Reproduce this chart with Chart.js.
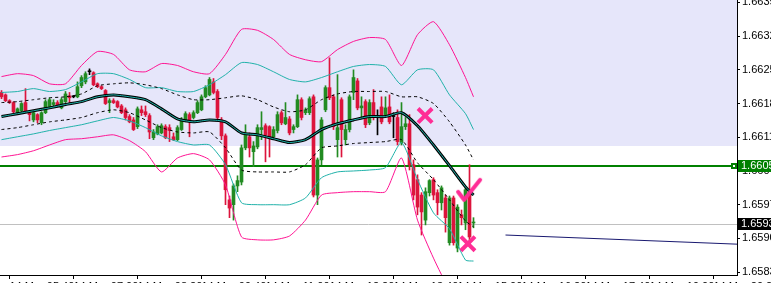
<!DOCTYPE html>
<html>
<head>
<meta charset="utf-8">
<script src="https://cdn.jsdelivr.net/npm/chart.js@4.4.0/dist/chart.umd.min.js"></script>
<style>
  html, body { margin: 0; padding: 0; background: #fff; }
  #wrap { width: 771px; height: 283px; }
</style>
</head>
<body>
<div id="wrap"><canvas id="priceChart" width="771" height="283"></canvas></div>
<script>
// M5 candles, 14 Mar, 05:30 .. 15:20
const openP = [1.66203,1.66198,1.66186,1.66182,1.66161,1.66165,1.66182,1.66161,1.66146,1.66157,1.66140,1.66161,1.66173,1.66178,1.66182,1.66171,1.66184,1.66196,1.66194,1.66194,
  1.66217,1.66225,1.66246,1.66244,1.66221,1.66215,1.66207,1.66182,1.66186,1.66184,1.66175,1.66167,1.66153,1.66146,1.66132,1.66167,1.66163,1.66155,1.66109,1.66117,
  1.66119,1.66132,1.66130,1.66111,1.66105,1.66126,1.66146,1.66157,1.66151,1.66161,1.66167,1.66194,1.66198,1.66225,1.66205,1.66146,1.66113,1.65980,1.65970,1.66009,
  1.66017,1.66088,1.66111,1.66080,1.66090,1.66126,1.66134,1.66132,1.66111,1.66124,1.66161,1.66138,1.66148,1.66126,1.66132,1.66188,1.66161,1.66161,1.66194,1.65990,
  1.66063,1.66167,1.66213,1.66194,1.66105,1.66188,1.66105,1.66126,1.66203,1.66227,1.66171,1.66184,1.66140,1.66182,1.66153,1.66173,1.66157,1.66173,1.66153,1.66151,
  1.66099,1.66132,1.66138,1.66053,1.66022,1.65990,1.65938,1.65995,1.66022,1.65995,1.65974,1.65984,1.65891,1.65984,1.65880,1.65949,1.65932,1.66001,1.65932];
const highP = [1.66207,1.66200,1.66188,1.66184,1.66171,1.66182,1.66211,1.66163,1.66163,1.66159,1.66163,1.66188,1.66192,1.66188,1.66186,1.66192,1.66205,1.66203,1.66196,1.66225,
  1.66238,1.66246,1.66252,1.66246,1.66223,1.66217,1.66209,1.66190,1.66190,1.66186,1.66178,1.66171,1.66157,1.66151,1.66173,1.66175,1.66175,1.66159,1.66126,1.66136,
  1.66138,1.66136,1.66136,1.66119,1.66134,1.66151,1.66163,1.66161,1.66165,1.66186,1.66198,1.66217,1.66234,1.66232,1.66209,1.66151,1.66117,1.65988,1.66013,1.66030,
  1.66094,1.66136,1.66119,1.66101,1.66136,1.66163,1.66138,1.66134,1.66132,1.66163,1.66165,1.66182,1.66153,1.66136,1.66198,1.66192,1.66171,1.66194,1.66198,1.66067,
  1.66151,1.66217,1.66275,1.66198,1.66240,1.66192,1.66136,1.66198,1.66250,1.66232,1.66194,1.66188,1.66188,1.66209,1.66167,1.66194,1.66194,1.66198,1.66161,1.66167,
  1.66182,1.66151,1.66157,1.66063,1.66032,1.65995,1.66005,1.66022,1.66026,1.66001,1.66009,1.65990,1.65988,1.65988,1.65970,1.65959,1.66005,1.66053,1.65943];
const lowP = [1.66190,1.66184,1.66180,1.66161,1.66159,1.66163,1.66161,1.66144,1.66142,1.66140,1.66136,1.66159,1.66171,1.66173,1.66173,1.66169,1.66182,1.66182,1.66192,1.66192,
  1.66213,1.66221,1.66240,1.66217,1.66213,1.66209,1.66178,1.66161,1.66180,1.66171,1.66159,1.66146,1.66140,1.66124,1.66128,1.66155,1.66153,1.66107,1.66105,1.66115,
  1.66117,1.66107,1.66101,1.66103,1.66103,1.66124,1.66142,1.66111,1.66148,1.66159,1.66165,1.66192,1.66196,1.66200,1.66146,1.66105,1.65970,1.65943,1.65938,1.65997,
  1.66011,1.66084,1.66069,1.66049,1.66086,1.66105,1.66059,1.66069,1.66107,1.66119,1.66136,1.66136,1.66115,1.66119,1.66130,1.66146,1.66157,1.66157,1.65986,1.65970,
  1.66053,1.66163,1.66188,1.66126,1.66069,1.66069,1.66094,1.66121,1.66188,1.66167,1.66151,1.66130,1.66136,1.66146,1.66115,1.66138,1.66153,1.66138,1.66109,1.66094,
  1.66094,1.66126,1.66042,1.65980,1.65949,1.65907,1.65928,1.65988,1.65980,1.65949,1.65959,1.65913,1.65886,1.65886,1.65872,1.65928,1.65918,1.65886,1.65922];
const closeP = [1.66194,1.66186,1.66182,1.66163,1.66169,1.66180,1.66163,1.66157,1.66161,1.66146,1.66161,1.66184,1.66188,1.66182,1.66175,1.66188,1.66200,1.66192,1.66194,1.66215,
  1.66234,1.66242,1.66246,1.66219,1.66215,1.66211,1.66180,1.66186,1.66182,1.66173,1.66161,1.66151,1.66142,1.66126,1.66169,1.66161,1.66157,1.66121,1.66121,1.66132,
  1.66134,1.66109,1.66124,1.66105,1.66130,1.66146,1.66159,1.66146,1.66161,1.66182,1.66194,1.66213,1.66230,1.66203,1.66151,1.66113,1.66001,1.65963,1.66009,1.66020,
  1.66088,1.66117,1.66088,1.66092,1.66130,1.66130,1.66115,1.66111,1.66126,1.66157,1.66140,1.66151,1.66119,1.66132,1.66188,1.66151,1.66167,1.66190,1.65990,1.66063,
  1.66146,1.66213,1.66192,1.66132,1.66130,1.66126,1.66126,1.66194,1.66234,1.66171,1.66175,1.66136,1.66182,1.66151,1.66153,1.66142,1.66171,1.66142,1.66153,1.66101,
  1.66132,1.66138,1.66053,1.65990,1.65965,1.65955,1.65997,1.66020,1.65990,1.65974,1.66005,1.65943,1.65984,1.65891,1.65965,1.65943,1.66001,1.65903,1.65934];

// Bollinger bands, every 4th bar
const bandAt = [0,4,8,12,16,20,24,28,32,36,40,44,48,52,56,60,64,68,72,76,80,84,88,92,96,100,104,108,112,116,118];
const bandMid = [1.66153,1.66159,1.66165,1.66171,1.66178,1.66184,1.66194,1.66198,1.66194,1.66188,1.66169,1.66148,1.66142,1.66146,1.66142,1.66119,1.66115,1.66107,1.66099,1.66105,1.66126,1.66138,1.66146,1.66153,1.66153,1.66161,1.66134,1.66094,1.66051,1.66007,1.65990];
const bandUp1 = [1.66182,1.66184,1.66188,1.66192,1.66194,1.66200,1.66217,1.66221,1.66223,1.66219,1.66211,1.66198,1.66188,1.66188,1.66192,1.66196,1.66188,1.66173,1.66163,1.66167,1.66188,1.66200,1.66205,1.66205,1.66205,1.66194,1.66194,1.66180,1.66142,1.66094,1.66063];
const bandLo1 = [1.66126,1.66130,1.66136,1.66142,1.66146,1.66151,1.66161,1.66167,1.66161,1.66146,1.66130,1.66121,1.66119,1.66121,1.66088,1.66042,1.66038,1.66038,1.66038,1.66053,1.66088,1.66092,1.66097,1.66099,1.66101,1.66105,1.66057,1.66022,1.65980,1.65936,1.65924];
const bandUp2 = [1.66203,1.66205,1.66211,1.66205,1.66209,1.66225,1.66242,1.66242,1.66230,1.66213,1.66213,1.66205,1.66205,1.66219,1.66240,1.66265,1.66261,1.66246,1.66230,1.66225,1.66234,1.66246,1.66257,1.66261,1.66257,1.66219,1.66250,1.66250,1.66198,1.66159,1.66126];
const bandLo2 = [1.66105,1.66111,1.66117,1.66124,1.66130,1.66136,1.66144,1.66151,1.66144,1.66130,1.66113,1.66101,1.66094,1.66094,1.66053,1.65974,1.65970,1.65970,1.65970,1.65984,1.66026,1.66038,1.66040,1.66042,1.66047,1.66099,1.66022,1.65953,1.65920,1.65855,1.65853];
const bandUp3 = [1.66236,1.66242,1.66238,1.66221,1.66221,1.66259,1.66288,1.66282,1.66250,1.66246,1.66263,1.66259,1.66246,1.66242,1.66282,1.66334,1.66332,1.66313,1.66282,1.66271,1.66267,1.66292,1.66309,1.66317,1.66313,1.66259,1.66323,1.66350,1.66302,1.66234,1.66194];
const bandLo3 = [1.66069,1.66074,1.66082,1.66094,1.66105,1.66107,1.66111,1.66115,1.66103,1.66080,1.66038,1.66067,1.66076,1.66063,1.66011,1.65903,1.65897,1.65897,1.65905,1.65938,1.65990,1.65995,1.65997,1.65997,1.65997,1.66067,1.65938,1.65859,1.65793,1.65751,1.65730];

// objects on the chart
const zoneLow = 1.66092;
const levelPrice = 1.6605;
const bidPrice = 1.6593;
const trendAt = [126, 184];
const trendP = [1.65907, 1.65888];
const crossAt = [105.9, 116.6];
const crossP = [1.66155, 1.65889];
const tickAt = [116.9];
const tickP = [1.66001];

const xTickAt = [2, 18, 34, 50, 66, 82, 98, 114, 130, 146, 162, 178];
const xTickLabels = ['14 Mar 05:40', '14 Mar 07:00', '14 Mar 08:20', '14 Mar 09:40', '14 Mar 11:00', '14 Mar 12:20',
  '14 Mar 13:40', '14 Mar 15:00', '14 Mar 16:20', '14 Mar 17:40', '14 Mar 19:00', '14 Mar 20:20'];
const yTicks = [1.6583, 1.6590, 1.6597, 1.6604, 1.6611, 1.6618, 1.6625, 1.6632, 1.6639];

const UP = '#228b22', DOWN = '#dc143c', PINK = '#ff1493', TEAL = '#20b2aa', MARK = '#ff2d95';
const FONT = { family: 'Liberation Sans', size: 11 };

function candleColor(ctx) {
  const i = ctx.dataIndex;
  if (closeP[i] > openP[i]) return UP;
  if (closeP[i] < openP[i]) return DOWN;
  return '#000';
}

function band(values) {
  return bandAt.map((k, i) => ({ x: k, y: values[i] }));
}

function lineSet(label, values, color, extra) {
  return Object.assign({
    type: 'line', label, data: band(values), borderColor: color, borderWidth: 1,
    pointRadius: 0, tension: 0.2, fill: false
  }, extra || {});
}

function checkMark() {
  const c = document.createElement('canvas');
  c.width = 28; c.height = 28;
  const g = c.getContext('2d');
  g.strokeStyle = MARK; g.lineWidth = 4; g.lineCap = 'round'; g.lineJoin = 'round';
  g.beginPath(); g.moveTo(3, 16); g.lineTo(9, 24); g.lineTo(25, 4); g.stroke();
  return c;
}

// drop the automatic label padding so the plot fills the canvas like the terminal does
function noPad(s) {
  s.paddingTop = 0; s.paddingBottom = 0; s.paddingLeft = 0; s.paddingRight = 0;
}

const overlays = {
  id: 'overlays',
  beforeDraw(chart) {
    const { ctx, width, height } = chart;
    ctx.save();
    ctx.fillStyle = '#fff';
    ctx.fillRect(0, 0, width, height);
    ctx.restore();
  },
  beforeDatasetsDraw(chart) {
    const { ctx, chartArea: a, scales: { y } } = chart;
    ctx.save();
    ctx.fillStyle = '#e6e6fa';
    ctx.fillRect(a.left, a.top, a.right - a.left, Math.round(y.getPixelForValue(zoneLow)) - a.top);
    const yb = Math.round(y.getPixelForValue(bidPrice)) + 0.5;
    ctx.strokeStyle = '#c0c0c0'; ctx.lineWidth = 1;
    ctx.beginPath(); ctx.moveTo(a.left, yb); ctx.lineTo(a.right, yb); ctx.stroke();
    const yl = Math.round(y.getPixelForValue(levelPrice));
    ctx.fillStyle = '#008000';
    ctx.fillRect(a.left, yl - 1, a.right - a.left, 2);
    ctx.restore();
  },
  afterDraw(chart) {
    const { ctx, chartArea: a, scales: { y } } = chart;
    ctx.save();
    const yl = Math.round(y.getPixelForValue(levelPrice));
    ctx.fillStyle = '#008000';
    ctx.fillRect(a.right - 6, yl - 3, 6, 6);
    ctx.fillStyle = '#fff';
    ctx.fillRect(a.right - 4, yl - 1, 2, 2);
    ctx.font = '11px "Liberation Sans"';
    ctx.textBaseline = 'middle';
    ctx.fillStyle = '#008000';
    ctx.fillRect(a.right + 1, yl - 6, 40, 12);
    ctx.fillStyle = '#fff';
    ctx.fillText(levelPrice.toFixed(4), a.right + 4, yl);
    const yb = Math.round(y.getPixelForValue(bidPrice));
    ctx.fillStyle = '#000';
    ctx.fillRect(a.right + 1, yb - 6, 40, 12);
    ctx.fillStyle = '#fff';
    ctx.fillText(bidPrice.toFixed(4), a.right + 4, yb);
    ctx.restore();
  }
};

function createPriceChart() {
  const ctx = document.getElementById('priceChart').getContext('2d');
  return new Chart(ctx, {
    type: 'bar',
    data: {
      datasets: [
        {
          type: 'line', label: 'cross', data: crossAt.map((k, i) => ({ x: k, y: crossP[i] })),
          showLine: false, pointStyle: 'crossRot', pointRadius: 10, pointBorderWidth: 4,
          pointBorderColor: MARK, order: 0
        },
        {
          type: 'line', label: 'check', data: tickAt.map((k, i) => ({ x: k, y: tickP[i] })),
          showLine: false, pointStyle: checkMark(), order: 1
        },
        {
          type: 'line', label: 'trend', data: trendAt.map((k, i) => ({ x: k, y: trendP[i] })),
          borderColor: '#191970', borderWidth: 1, pointRadius: 0, order: 2
        },
        lineSet('MA', bandMid, TEAL, { order: 3 }),
        lineSet('MA edge', bandMid, '#000', { borderWidth: 3, order: 4 }),
        lineSet('BB1 up', bandUp1, '#000', { borderDash: [3, 3], order: 5 }),
        lineSet('BB1 low', bandLo1, '#000', { borderDash: [3, 3], order: 5 }),
        lineSet('BB2 up', bandUp2, TEAL, { order: 6 }),
        lineSet('BB2 low', bandLo2, TEAL, { order: 6 }),
        lineSet('BB3 up', bandUp3, PINK, { order: 7 }),
        lineSet('BB3 low', bandLo3, PINK, { order: 7 }),
        {
          type: 'bar', label: 'body', data: openP.map((o, i) => ({ x: i, y: [o, closeP[i]] })),
          backgroundColor: candleColor, barThickness: 3, minBarLength: 1, grouped: false, order: 8
        },
        {
          type: 'bar', label: 'wick', data: openP.map((o, i) => ({ x: i, y: [lowP[i], highP[i]] })),
          backgroundColor: candleColor, barThickness: 1, grouped: false, order: 9
        }
      ]
    },
    options: {
      responsive: false,
      animation: false,
      events: [],
      layout: { padding: 0, autoPadding: false },
      plugins: { legend: { display: false }, tooltip: { enabled: false }, title: { display: false } },
      scales: {
        x: {
          type: 'linear', min: -0.375, max: 183.875, offset: false,
          grid: { drawOnChartArea: false, tickLength: 4, color: '#000', offset: false },
          border: { color: '#000' },
          afterBuildTicks: s => { s.ticks = xTickAt.map(v => ({ value: v })); },
          afterFit: s => { s.height = 8; noPad(s); },
          ticks: {
            align: 'start', padding: 1, maxRotation: 0, minRotation: 0, autoSkip: false,
            color: '#000', font: FONT, callback: v => xTickLabels[xTickAt.indexOf(v)]
          }
        },
        y: {
          position: 'right', min: 1.65824, max: 1.66395,
          grid: { drawOnChartArea: false, tickLength: 3, color: '#000' },
          border: { color: '#000' },
          afterBuildTicks: s => { s.ticks = yTicks.map(v => ({ value: v })); },
          afterFit: s => { s.width = 34; noPad(s); },
          ticks: { padding: 2, color: '#000', font: FONT, callback: v => v.toFixed(4) }
        }
      }
    },
    plugins: [overlays]
  });
}

createPriceChart();
</script>
</body>
</html>
